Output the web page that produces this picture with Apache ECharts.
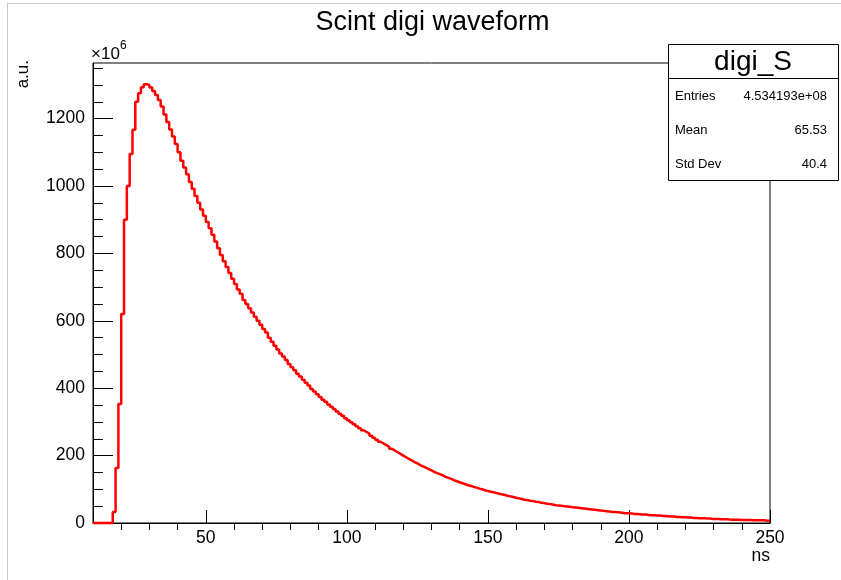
<!DOCTYPE html>
<html>
<head>
<meta charset="utf-8">
<script src="https://cdn.jsdelivr.net/npm/echarts@6/dist/echarts.min.js"></script>
<style>
  html, body { margin: 0; padding: 0; background: #fff; }
  #chart { width: 841px; height: 580px; }
</style>
</head>
<body>
<div id="chart"></div>
<script>
// histogram binning (ns)
const binStart = 10;
const binWidth = 1;
const xMin = 10;
const xMax = 250;
const yMax = 1365;

// bin contents, in units of 1e6 (bins 10..249 ns)
const counts = [
  0, 0, 0, 0, 0, 0, 0, 33, 163, 353,
  620, 900, 1000, 1095, 1167, 1250, 1275, 1293, 1302, 1300,
  1292, 1282, 1270, 1255, 1236, 1212, 1190, 1168, 1147, 1125,
  1100, 1075, 1055, 1035, 1012, 992, 970, 950, 930, 912,
  893, 875, 855, 835, 815, 795, 777, 760, 742, 725,
  709, 693, 680, 662, 650, 637, 625, 612, 600, 588,
  576, 565, 550, 538, 526, 515, 503, 494, 484, 472,
  462, 453, 443, 435, 425, 416, 408, 398, 390, 382,
  374, 366, 360, 352, 345, 338, 331, 324, 318, 311,
  305, 299, 293, 287, 281, 275, 270, 265, 259, 253,
  247, 241, 236, 231, 226, 220, 215, 210, 205, 200,
  195, 190, 186, 181, 177, 172, 168, 164, 160, 156,
  152, 148, 145, 141, 137, 134, 131, 127, 124, 121,
  118, 115, 112, 110, 107, 105, 102, 100, 97, 95,
  93, 91, 89, 87, 85, 83, 81, 79, 77, 75,
  73, 71, 69, 68, 66, 65, 63, 62, 60, 59,
  57, 56, 55, 53, 52, 51, 50, 49, 48, 47,
  46, 45, 44, 43, 42, 41, 40, 39, 38, 37,
  36, 35, 34, 33, 33, 32, 31, 30, 29, 29,
  28, 27, 27, 26, 25, 25, 24, 23, 23, 22,
  22, 21, 21, 20, 19, 19, 18, 18, 17, 17,
  16, 16, 15, 15, 14, 14, 14, 13, 13, 12,
  12, 12, 11, 11, 11, 10, 10, 10, 10, 9,
  9, 9, 9, 8, 8, 8, 8, 8, 7, 7
];

const xMajorTicks = [50, 100, 150, 200, 250];
const xMinorTicks = [20, 30, 40, 60, 70, 80, 90, 110, 120, 130, 140, 160, 170, 180, 190, 210, 220, 230, 240];
const yMajorTicks = [0, 200, 400, 600, 800, 1000, 1200];
const yMinorTicks = [50, 100, 150, 250, 300, 350, 450, 500, 550, 650, 700, 750, 850, 900, 950, 1050, 1100, 1150, 1250, 1300, 1350];

const statsTitle = 'digi_S';
const statsLabels = ['Entries', 'Mean', 'Std Dev'];
const statsValues = ['4.534193e+08', '65.53', '40.4'];

const FONT = '"Liberation Sans", Arial, Helvetica, sans-serif';

// step points at the left edge of each bin, plus the closing edge
const points = counts.map((v, i) => [binStart + i * binWidth, v]);
points.push([binStart + counts.length * binWidth, counts[counts.length - 1]]);

const chart = echarts.init(document.getElementById('chart'), null, { renderer: 'canvas' });

const tickStyle = { color: '#000', width: 1 };

const statsGraphics = [
  {
    type: 'rect',
    shape: { x: 668.5, y: 44.5, width: 170, height: 136 },
    style: { fill: '#fff', stroke: '#000', lineWidth: 1 },
    z: 10
  },
  {
    type: 'line',
    shape: { x1: 668.5, y1: 78.5, x2: 838.5, y2: 78.5 },
    style: { stroke: '#000', lineWidth: 1 },
    z: 11
  },
  {
    type: 'text',
    x: 753, y: 62,
    style: { text: statsTitle, fontFamily: FONT, fontSize: 28, fill: '#000', align: 'center', verticalAlign: 'middle' },
    z: 11
  }
];
statsLabels.forEach((lab, i) => {
  const y = 96 + i * 34;
  statsGraphics.push({
    type: 'text', x: 675, y: y,
    style: { text: lab, fontFamily: FONT, fontSize: 13, fill: '#000', align: 'left', verticalAlign: 'middle' },
    z: 11
  });
  statsGraphics.push({
    type: 'text', x: 827, y: y,
    style: { text: statsValues[i], fontFamily: FONT, fontSize: 13, fill: '#000', align: 'right', verticalAlign: 'middle' },
    z: 11
  });
});

chart.setOption({
  animation: false,
  backgroundColor: '#fff',
  textStyle: { fontFamily: FONT },
  grid: {
    left: 93, right: 71, top: 63, bottom: 57,
    show: true, borderColor: '#000', borderWidth: 1, backgroundColor: 'transparent'
  },
  xAxis: [
    {
      type: 'value', min: xMin, max: xMax,
      axisLine: { lineStyle: tickStyle },
      axisTick: { inside: true, length: 13, customValues: xMajorTicks, lineStyle: tickStyle },
      axisLabel: { customValues: xMajorTicks, color: '#000', fontSize: 17.5, fontFamily: FONT, margin: 6, formatter: v => String(v) },
      splitLine: { show: false }
    },
    {
      type: 'value', min: xMin, max: xMax,
      axisLine: { show: false },
      axisTick: { inside: true, length: 7, customValues: xMinorTicks, lineStyle: tickStyle },
      axisLabel: { show: false },
      splitLine: { show: false }
    }
  ],
  yAxis: [
    {
      type: 'value', min: 0, max: yMax,
      axisLine: { show: true, lineStyle: tickStyle },
      axisTick: { show: true, inside: true, length: 20, customValues: yMajorTicks, lineStyle: tickStyle },
      axisLabel: { customValues: yMajorTicks, color: '#000', fontSize: 17.5, fontFamily: FONT, margin: 8, formatter: v => String(v) },
      splitLine: { show: false }
    },
    {
      type: 'value', min: 0, max: yMax, position: 'left',
      axisLine: { show: false },
      axisTick: { show: true, inside: true, length: 10, customValues: yMinorTicks, lineStyle: tickStyle },
      axisLabel: { show: false },
      splitLine: { show: false }
    }
  ],
  series: [
    {
      name: statsTitle,
      type: 'line',
      step: 'end',
      data: points,
      showSymbol: false,
      symbol: 'none',
      clip: false,
      lineStyle: { color: '#ff0000', width: 2.5 },
      z: 5
    }
  ],
  graphic: [
    // canvas frame
    {
      type: 'polyline',
      shape: { points: [[7.5, 580], [7.5, 3.5], [841, 3.5]] },
      style: { stroke: '#c8c8c8', fill: 'none', lineWidth: 1 }
    },
    {
      type: 'text', x: 432.5, y: 23,
      style: { text: 'Scint digi waveform', fontFamily: FONT, fontSize: 27, fill: '#000', align: 'center', verticalAlign: 'middle' }
    },
    {
      type: 'text', x: 91, y: 54,
      style: { text: '×10', fontFamily: FONT, fontSize: 17, fill: '#000', align: 'left', verticalAlign: 'middle' }
    },
    {
      type: 'text', x: 120, y: 46,
      style: { text: '6', fontFamily: FONT, fontSize: 12, fill: '#000', align: 'left', verticalAlign: 'middle' }
    },
    {
      type: 'text', x: 23, y: 60, rotation: Math.PI / 2,
      style: { text: 'a.u.', fontFamily: FONT, fontSize: 17, fill: '#000', align: 'right', verticalAlign: 'middle' }
    },
    {
      type: 'text', x: 770, y: 556,
      style: { text: 'ns', fontFamily: FONT, fontSize: 17.5, fill: '#000', align: 'right', verticalAlign: 'middle' }
    }
  ].concat(statsGraphics)
});
</script>
</body>
</html>
